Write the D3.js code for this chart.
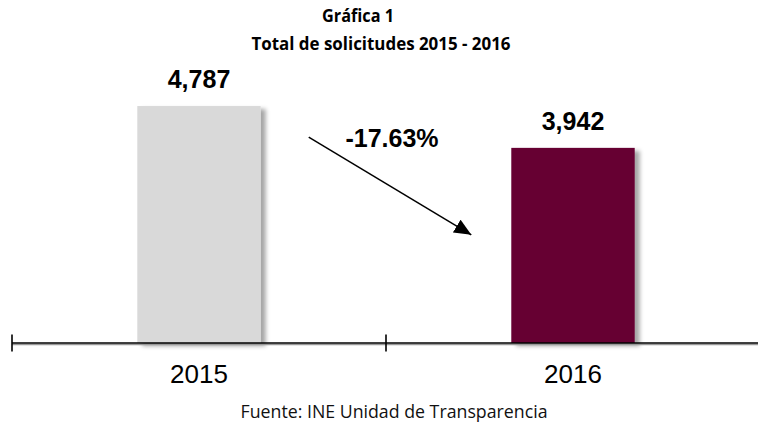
<!DOCTYPE html>
<html>
<head>
<meta charset="utf-8">
<script src="https://cdn.jsdelivr.net/npm/d3@7"></script>
<style>
  body { margin: 0; background: #fff; }
  svg { display: block; }
</style>
</head>
<body>
<div id="chart"></div>
<script>
// data
const years = ["2015", "2016"];
const totals = [4787, 3942];
const barColors = ["#d9d9d9", "#660033"];
const changeLabel = "-17.63%";
const titleLines = ["Gráfica 1", "Total de solicitudes 2015 - 2016"];
const sourceNote = "Fuente: INE Unidad de Transparencia";

const width = 758,
  height = 425;
const axisY = 343;

const svg = d3.select("#chart").append("svg")
  .attr("width", width)
  .attr("height", height);

// soft shadow like the excel bars
const defs = svg.append("defs");
const shadow = defs.append("filter")
  .attr("id", "shadow")
  .attr("x", "-20%").attr("y", "-20%")
  .attr("width", "150%").attr("height", "150%");
shadow.append("feDropShadow")
  .attr("dx", 5).attr("dy", 3)
  .attr("stdDeviation", 2)
  .attr("flood-color", "#000")
  .attr("flood-opacity", 0.35);

const marker = defs.append("marker")
  .attr("id", "arrowhead")
  .attr("viewBox", "0 0 10 10")
  .attr("refX", 10).attr("refY", 5)
  .attr("markerWidth", 17).attr("markerHeight", 15)
  .attr("markerUnits", "userSpaceOnUse")
  .attr("preserveAspectRatio", "none")
  .attr("orient", "auto");
marker.append("path")
  .attr("d", "M0,0 L10,5 L0,10 Z")
  .attr("fill", "#000");

// scales
const band = d3.scaleBand()
  .domain(years)
  .range([12, 760])
  .paddingInner(0)
  .paddingOuter(0);

const x = d3.scaleBand()
  .domain(years)
  .range([12, 760])
  .paddingInner(0.67)
  .paddingOuter(0.335);

const y = d3.scaleLinear()
  .domain([0, 6000])
  .range([axisY, axisY - 297]);

// title
svg.append("text")
  .attr("x", 358).attr("y", 22)
  .attr("text-anchor", "middle")
  .attr("textLength", 72)
  .attr("lengthAdjust", "spacingAndGlyphs")
  .style("font-family", "'Open Sans', sans-serif")
  .style("font-weight", "bold")
  .style("font-size", "18px")
  .text(titleLines[0]);

svg.append("text")
  .attr("x", 381).attr("y", 50)
  .attr("text-anchor", "middle")
  .attr("textLength", 259)
  .attr("lengthAdjust", "spacingAndGlyphs")
  .style("font-family", "'Open Sans', sans-serif")
  .style("font-weight", "bold")
  .style("font-size", "18px")
  .text(titleLines[1]);

// bars
const data = years.map((yr, i) => ({ year: yr, value: totals[i], color: barColors[i] }));

svg.append("g")
  .selectAll("rect")
  .data(data)
  .join("rect")
  .attr("x", d => x(d.year))
  .attr("y", d => y(d.value))
  .attr("width", x.bandwidth())
  .attr("height", d => y(0) - y(d.value))
  .attr("fill", d => d.color)
  .attr("filter", "url(#shadow)");

// value labels
svg.append("g")
  .selectAll("text")
  .data(data)
  .join("text")
  .attr("x", d => x(d.year) + x.bandwidth() / 2)
  .attr("y", d => y(d.value) - 18)
  .attr("text-anchor", "middle")
  .style("font-family", "'Liberation Sans', Arial, sans-serif")
  .style("font-weight", "bold")
  .style("font-size", "25px")
  .text(d => d3.format(",")(d.value));

// axis: ticks sit on the category boundaries
const axis = svg.append("g")
  .attr("transform", `translate(0,${axisY})`);

axis.append("line")
  .attr("x1", 12).attr("x2", width)
  .attr("y1", 1.5).attr("y2", 1.5)
  .attr("stroke", "#999")
  .attr("stroke-width", 1.5);
axis.append("line")
  .attr("x1", 12).attr("x2", width)
  .attr("y1", 0).attr("y2", 0)
  .attr("stroke", "#000")
  .attr("stroke-width", 1.6);

axis.selectAll(".tick")
  .data(years)
  .join("line")
  .attr("class", "tick")
  .attr("x1", d => band(d)).attr("x2", d => band(d))
  .attr("y1", -8.5).attr("y2", 8.5)
  .attr("stroke", "#000")
  .attr("stroke-width", 1.6);

axis.selectAll(".lbl")
  .data(years)
  .join("text")
  .attr("class", "lbl")
  .attr("x", d => x(d) + x.bandwidth() / 2)
  .attr("y", 40)
  .attr("text-anchor", "middle")
  .style("font-family", "'Liberation Sans', Arial, sans-serif")
  .style("font-size", "26px")
  .text(d => d);

// change arrow between the two bars
const x0 = x(years[0]) + x.bandwidth(),
  x1 = x(years[1]);
const arrowStart = [x0 + 48, y(totals[0]) + 31],
  arrowEnd = [x1 - 40, y(totals[1]) + 87];

svg.append("line")
  .attr("x1", arrowStart[0]).attr("y1", arrowStart[1])
  .attr("x2", arrowEnd[0]).attr("y2", arrowEnd[1])
  .attr("stroke", "#000")
  .attr("stroke-width", 1.5)
  .attr("marker-end", "url(#arrowhead)");

svg.append("text")
  .attr("x", (x0 + x1) / 2 + 6)
  .attr("y", 147)
  .attr("text-anchor", "middle")
  .style("font-family", "'Liberation Sans', Arial, sans-serif")
  .style("font-weight", "bold")
  .style("font-size", "25px")
  .text(changeLabel);

// source
svg.append("text")
  .attr("x", 394).attr("y", 418)
  .attr("text-anchor", "middle")
  .attr("textLength", 307)
  .attr("lengthAdjust", "spacingAndGlyphs")
  .style("font-family", "'Open Sans', sans-serif")
  .style("font-size", "18px")
  .style("fill", "#111")
  .text(sourceNote);
</script>
</body>
</html>
